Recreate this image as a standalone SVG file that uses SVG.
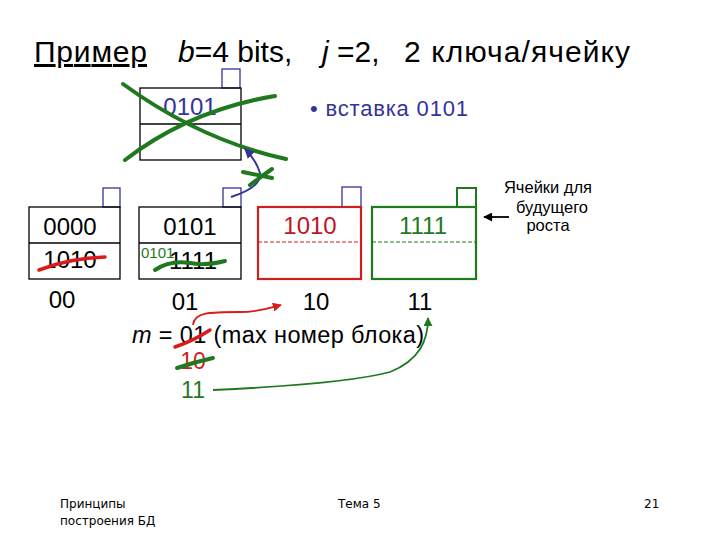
<svg xmlns="http://www.w3.org/2000/svg" width="720" height="540" viewBox="0 0 720 540">
<defs>
<style>
text{font-family:"Liberation Sans",Arial,sans-serif;}
.t{font-size:30px;fill:#000;}
.d{font-size:24px;text-anchor:middle;}
.blk{fill:none;stroke:#000;stroke-width:1.3;}
.sq{fill:#fff;stroke:#333399;stroke-width:1.3;}
.gs{fill:none;stroke:#1f7a1f;stroke-width:4;stroke-linecap:round;}
.rs{fill:none;stroke:#dd1a1a;stroke-width:3.5;stroke-linecap:round;}
.foot{font-family:"DejaVu Sans",sans-serif;font-size:12px;fill:#000;}
.fut{font-size:16.5px;text-anchor:middle;}
</style>
<marker id="an" viewBox="0 0 10 10" refX="9" refY="5" markerWidth="5" markerHeight="5" orient="auto"><path d="M0,0L10,5L0,10z" fill="#333399"/></marker>
<marker id="ar" viewBox="0 0 10 10" refX="9" refY="5" markerWidth="5" markerHeight="5" orient="auto"><path d="M0,0L10,5L0,10z" fill="#dd1a1a"/></marker>
<marker id="ag" viewBox="0 0 10 10" refX="9" refY="5" markerWidth="5" markerHeight="5" orient="auto"><path d="M0,0L10,5L0,10z" fill="#1f7a1f"/></marker>
<marker id="ak" viewBox="0 0 10 10" refX="9" refY="5" markerWidth="6" markerHeight="5" orient="auto"><path d="M0,0L10,5L0,10z" fill="#000"/></marker>
</defs>
<rect width="720" height="540" fill="#fff"/>

<g id="title">
<text class="t" x="34" y="62" text-decoration="underline" textLength="113">Пример</text>
<text class="t" x="178" y="62"><tspan font-style="italic">b</tspan>=4 bits,</text>
<text class="t" x="322" y="62"><tspan font-style="italic">j</tspan> =2,</text>
<text class="t" x="404" y="62" textLength="226">2 ключа/ячейку</text>
</g>

<g id="oldblock">
<rect class="sq" x="222" y="69" width="18" height="19"/>
<rect class="blk" x="140" y="88" width="101" height="72"/>
<line class="blk" x1="140" y1="124" x2="241" y2="124"/>
<text class="d" x="190" y="115" fill="#333399">0101</text>
</g>

<g id="insert">
<text x="310" y="116" font-size="22" fill="#333399" textLength="158">• вставка 0101</text>
</g>

<g id="block00">
<rect class="sq" x="103" y="188" width="17" height="19"/>
<rect class="blk" x="29" y="207" width="91" height="72"/>
<line class="blk" x1="29" y1="243" x2="120" y2="243"/>
<text class="d" x="70" y="235">0000</text>
<text class="d" x="70" y="268">1010</text>
<text class="d" x="62" y="308">00</text>
</g>

<g id="block01">
<rect class="sq" x="223" y="188" width="18" height="19"/>
<rect class="blk" x="139" y="207" width="102" height="72"/>
<line class="blk" x1="139" y1="243" x2="241" y2="243"/>
<text class="d" x="190" y="235">0101</text>
<text class="d" x="193" y="269">1111</text>
<text x="141" y="258" font-family="Liberation Serif,serif" font-size="15" fill="#1f7a1f">0101</text>
<text class="d" x="185" y="310">01</text>
</g>

<g id="block10">
<rect class="sq" x="342" y="187" width="19" height="20"/>
<rect x="258" y="207" width="103" height="72" fill="none" stroke="#cc1f1f" stroke-width="2.2"/>
<line x1="258" y1="242" x2="361" y2="242" stroke="#cc1f1f" stroke-width="1" stroke-dasharray="4,2"/>
<text class="d" x="310" y="234" fill="#c0141e">1010</text>
<text class="d" x="316" y="310">10</text>
</g>

<g id="block11">
<rect x="457" y="188" width="19" height="19" fill="#fff" stroke="#1f7a1f" stroke-width="2"/>
<rect x="372" y="207" width="104" height="72" fill="none" stroke="#1f7a1f" stroke-width="2.2"/>
<line x1="372" y1="242" x2="476" y2="242" stroke="#1f7a1f" stroke-width="1" stroke-dasharray="4,2"/>
<text class="d" x="423" y="234" fill="#1f7a1f">1111</text>
<text class="d" x="420" y="310">11</text>
</g>

<g id="future">
<text class="fut" x="548" y="193">Ячейки для</text>
<text class="fut" x="552" y="213">будущего</text>
<text class="fut" x="548" y="231">роста</text>
</g>

<g id="mline">
<text x="132" y="343" font-size="23.5" textLength="292"><tspan font-style="italic">m</tspan> = 01 (max номер блока)</text>
<text x="193" y="369" font-size="23" fill="#cc1f1f" text-anchor="middle">10</text>
<text x="193" y="398" font-size="23" fill="#1f7a1f" text-anchor="middle">11</text>
</g>

<g id="connectors">
<path class="gs" d="M123,84 Q200,140 286,159"/>
<path class="gs" d="M125,160 Q190,110 275,96"/>
<path d="M231,197 Q262,187 260,173 Q256,160 245,149" fill="none" stroke="#333399" stroke-width="2" marker-end="url(#an)"/>
<path class="gs" d="M243,172 L272,178"/>
<path class="gs" d="M250,185 Q262,176 272,169"/>
<path class="rs" d="M39,270 Q70,258 105,257"/>
<path class="gs" d="M155,270 Q170,260 190,263 Q205,266 225,261"/>
<path class="rs" d="M175,347 Q195,340 210,330"/>
<path class="gs" d="M177,368 Q195,362 213,358"/>
<path d="M193,325 C194,312 210,312 240,312 C260,312 270,308 281,305" fill="none" stroke="#dd1a1a" stroke-width="1.8" marker-end="url(#ar)"/>
<path d="M213,390 C300,386 360,380 390,372 C420,360 428,340 428,318" fill="none" stroke="#1f7a1f" stroke-width="1.8" marker-end="url(#ag)"/>
<line x1="509" y1="217" x2="484" y2="217" stroke="#000" stroke-width="1.8" marker-end="url(#ak)"/>
</g>

<g id="footer">
<text class="foot" x="60" y="508">Принципы</text>
<text class="foot" x="60" y="525">построения БД</text>
<text class="foot" x="338" y="508">Тема 5</text>
<text class="foot" x="644" y="508">21</text>
</g>
</svg>
